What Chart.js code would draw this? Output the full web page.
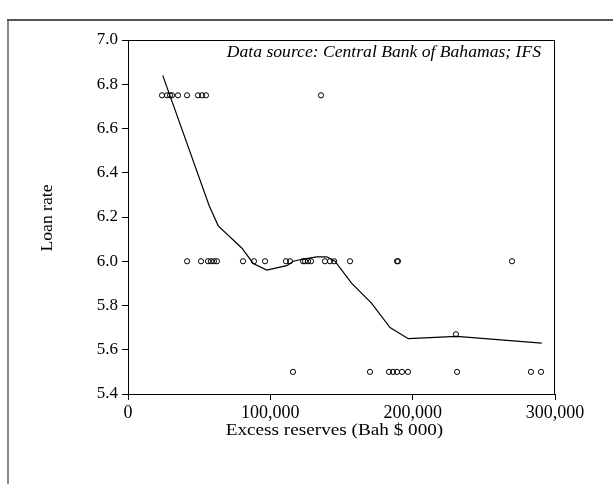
<!DOCTYPE html>
<html>
<head>
<meta charset="utf-8">
<script src="https://cdn.jsdelivr.net/npm/chart.js@4"></script>
<style>
  html, body { margin: 0; padding: 0; background: #fff; }
  #wrap { position: absolute; left: 0; top: 0; width: 613px; height: 484px; }
</style>
</head>
<body>
<div id="wrap"><canvas id="c" width="613" height="484"></canvas></div>
<script>
// Observed quarterly pairs: excess reserves (Bah $ 000) and loan rate (%)
const reservesAt675 = [23900, 27400, 29500, 30900, 35100, 41500, 49200, 52000, 54800, 135600];
const reservesAt600 = [41500, 51300, 56200, 58300, 60400, 62500, 80800, 88500, 96300, 111000,
                       113800, 123000, 124400, 126500, 128600, 138400, 141900, 144800, 156000,
                       189000, 189700, 269800];
const reservesAt567 = [230400];
const reservesAt550 = [115900, 170000, 183400, 186200, 189000, 192500, 196700, 231200, 283100, 290200];

// Smoothed (lowess) fit
const smoothReserves = [24400, 57100, 63400, 79900, 88000, 97500, 111500, 116100, 123200, 132600,
                        139600, 145400, 157200, 171200, 184100, 196900, 230900, 270700, 290700];
const smoothRate = [6.84, 6.25, 6.16, 6.06, 5.99, 5.96, 5.98, 6.00, 6.01, 6.02,
                    6.02, 6.00, 5.90, 5.81, 5.70, 5.65, 5.66, 5.64, 5.63];

const yTicks = [5.4, 5.6, 5.8, 6.0, 6.2, 6.4, 6.6, 6.8, 7.0];
const xTicks = [0, 100000, 200000, 300000];

const sourceNote = 'Data source: Central Bank of Bahamas; IFS';
const xTitle = 'Excess reserves (Bah $ 000)';
const yTitle = 'Loan rate';

const obs = [];
reservesAt675.forEach(x => obs.push({x, y: 6.75}));
reservesAt600.forEach(x => obs.push({x, y: 6.0}));
reservesAt567.forEach(x => obs.push({x, y: 5.67}));
reservesAt550.forEach(x => obs.push({x, y: 5.5}));
const fit = smoothReserves.map((x, i) => ({x, y: smoothRate[i]}));

const serif = "'Liberation Serif', 'Times New Roman', serif";

// text drawn slightly widened, like the original export
function wideText(ctx, text, x, y, sx) {
  ctx.save();
  ctx.translate(x, y);
  ctx.scale(sx, 1);
  ctx.fillText(text, 0, 0);
  ctx.restore();
}

const decor = {
  id: 'decor',
  beforeDraw(chart) {
    const ctx = chart.ctx;
    ctx.save();
    ctx.fillStyle = '#fff';
    ctx.fillRect(0, 0, chart.width, chart.height);
    // outer frame (top and left edges)
    ctx.lineWidth = 2;
    ctx.strokeStyle = '#8a8a8a';
    ctx.beginPath();
    ctx.moveTo(8, 484);
    ctx.lineTo(8, 20);
    ctx.stroke();
    ctx.strokeStyle = '#555';
    ctx.beginPath();
    ctx.moveTo(7, 20);
    ctx.lineTo(613, 20);
    ctx.stroke();
    ctx.restore();
  },
  afterDraw(chart) {
    const ctx = chart.ctx;
    const a = chart.chartArea;
    ctx.save();
    ctx.strokeStyle = '#000';
    ctx.lineWidth = 1;
    ctx.strokeRect(a.left + 0.5, a.top + 0.5, a.right - a.left - 1, a.bottom - a.top);
    ctx.fillStyle = '#000';
    ctx.textBaseline = 'middle';
    ctx.font = 'italic 16px ' + serif;
    ctx.textAlign = 'right';
    wideText(ctx, sourceNote, a.right - 14, a.top + 13, 1.1);
    ctx.font = '16px ' + serif;
    ctx.textAlign = 'center';
    wideText(ctx, xTitle, (a.left + a.right) / 2 - 7, a.bottom + 37, 1.2);
    ctx.translate(48, (a.top + a.bottom) / 2 + 1);
    ctx.rotate(-Math.PI / 2);
    wideText(ctx, yTitle, 0, 0, 1.1);
    ctx.restore();
  }
};

new Chart(document.getElementById('c'), {
  type: 'scatter',
  data: {
    datasets: [
      {
        data: obs,
        showLine: false,
        pointRadius: 2.6,
        pointBorderWidth: 1,
        pointBorderColor: '#000',
        pointBackgroundColor: 'rgba(255,255,255,0)'
      },
      {
        data: fit,
        showLine: true,
        borderColor: '#000',
        borderWidth: 1.2,
        pointRadius: 0,
        tension: 0,
        fill: false
      }
    ]
  },
  options: {
    responsive: false,
    animation: false,
    devicePixelRatio: 1,
    layout: { padding: { left: 0, top: 40, right: 58, bottom: 0 } },
    plugins: { legend: { display: false }, tooltip: { enabled: false } },
    scales: {
      x: {
        type: 'linear',
        min: 0,
        max: 300000,
        afterBuildTicks(s) { s.ticks = xTicks.map(v => ({value: v})); },
        afterFit(s) { s.height = 90; },
        grid: { drawOnChartArea: false, drawTicks: true, tickLength: 6, color: '#000' },
        border: { display: true, color: '#000', width: 1 },
        ticks: {
          color: '#000',
          padding: 2,
          maxRotation: 0,
          font: { family: serif, size: 18 },
          callback: v => v.toLocaleString('en-US')
        }
      },
      y: {
        type: 'linear',
        min: 5.4,
        max: 7.0,
        afterBuildTicks(s) { s.ticks = yTicks.map(v => ({value: v})); },
        afterFit(s) { s.width = 128; },
        grid: { drawOnChartArea: false, drawTicks: true, tickLength: 6, color: '#000' },
        border: { display: true, color: '#000', width: 1 },
        ticks: {
          color: '#000',
          padding: 4,
          font: { family: serif, size: 17 },
          callback: v => Number(v).toFixed(1)
        }
      }
    }
  },
  plugins: [decor]
});
</script>
</body>
</html>
